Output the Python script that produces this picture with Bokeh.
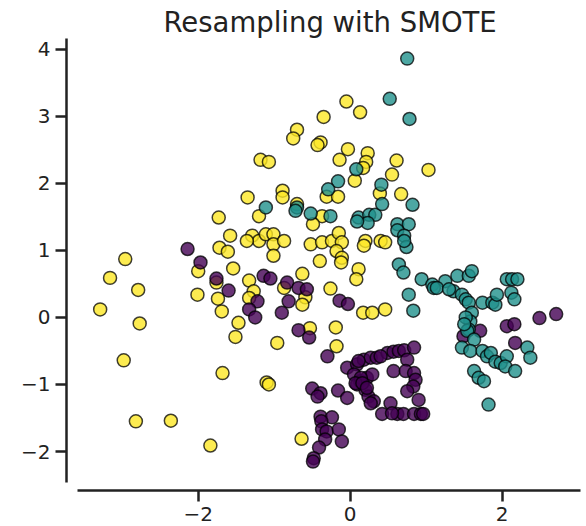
from bokeh.plotting import figure
from bokeh.models import FixedTicker, CustomJSTickFormatter, Range1d
from bokeh.embed import file_html
from bokeh.resources import INLINE

# ---- data ----
# class 0 (purple)
x_class0 = [-1.14, -1.05, -0.83, -0.68, -0.57, -0.81, -0.90, -0.14, -0.03, -0.68, -0.54, -0.30,
            -2.14, -1.97, -1.76, -1.60, -1.22, -1.33, -1.25,
            -0.50, -0.39, -0.43, -0.16, -0.04, -0.04, 0.09, 0.18, 0.27, 0.35, 0.05, 0.13, 0.22, 0.29,
            0.09, 0.20, 0.24, 0.31, 0.27, 0.42, 0.53, 0.62, 0.70, 0.84, 0.93, 0.96,
            0.49, 0.57, 0.64, 0.71, 0.84, 0.75, 0.57, 0.73, 0.84, 0.86, 0.83, 0.75, 0.90,
            -0.39, -0.24, -0.38, -0.37, -0.31, -0.15, -0.33, -0.11, -0.41, -0.48, -0.49,
            2.06, 2.16, 1.71, 1.49, 2.17, 2.49, 2.71,
            0.40, 0.14, 0.07, 0.16, 0.22, 0.55, 0.11]
y_class0 = [0.62, 0.58, 0.52, 0.44, 0.42, 0.24, 0.07, 0.25, 0.20, -0.19, -0.30, -0.58,
            1.02, 0.82, 0.58, 0.40, 0.24, 0.12, 0.00,
            -1.06, -1.13, -1.18, -1.09, -1.20, -0.75, -0.70, -0.63, -0.60, -0.60, -0.85, -0.95, -0.90, -0.85,
            -1.00, -1.08, -1.18, -1.25, -1.28, -1.44, -1.28, -1.44, -1.44, -1.44, -1.44, -1.44,
            -0.53, -0.51, -0.50, -0.49, -0.45, -0.63, -0.80, -0.80, -0.83, -0.93, -1.03, -1.10, -1.23,
            -1.48, -1.49, -1.55, -1.67, -1.70, -1.67, -1.82, -1.85, -1.94, -2.10, -2.15,
            -0.13, -0.10, -0.20, -0.28, -0.38, -0.01, 0.05,
            -0.58, -0.90, -0.98, -0.98, -1.05, -1.43, -0.65]

# class 1 (teal)
x_class1 = [0.75, 0.52, 0.78, 0.08, -0.16, -0.29, 0.41,
            -1.11, -0.70, -0.72, -0.52, -0.26, 0.11, 0.25, 0.33, 0.23, 0.09, 0.42, 0.82,
            0.62, 0.77, 0.62, 0.71, 0.74, 0.71, 0.64, 0.70, 0.77, 0.83,
            0.94, 1.08, 1.10, 1.25, 1.41, 1.56, 1.60, 1.36, 1.47, 1.52, 1.56, 1.74, 1.87, 1.91, 1.93,
            2.06, 2.13, 2.20, 2.12, 2.16, 1.60, 1.58, 1.56, 1.54, 1.63, 1.52, 1.50,
            1.47, 1.58, 1.74, 1.80, 1.85, 1.91, 1.98, 2.06, 2.04, 2.17, 2.33, 2.37,
            1.63, 1.69, 1.76, 1.82, 1.14, 1.30]
y_class1 = [3.86, 3.26, 2.96, 2.21, 2.03, 1.91, 1.98,
            1.64, 1.64, 1.59, 1.55, 1.51, 1.49, 1.53, 1.53, 1.41, 1.43, 1.69, 1.68,
            1.39, 1.39, 1.30, 1.22, 1.05, 1.14, 0.79, 0.67, 0.34, 0.10,
            0.57, 0.49, 0.44, 0.54, 0.62, 0.62, 0.69, 0.39, 0.34, 0.27, 0.22, 0.22, 0.22, 0.19, 0.34,
            0.57, 0.57, 0.57, 0.37, 0.27, 0.07, -0.06, -0.18, -0.20, -0.33, 0.00, -0.10,
            -0.45, -0.50, -0.50, -0.58, -0.53, -0.66, -0.68, -0.58, -0.73, -0.80, -0.45, -0.60,
            -0.80, -0.90, -0.95, -1.30, 0.44, 0.42]

# class 2 (yellow)
x_class2 = [-0.05, 0.13, -0.35, -0.70, -0.75, -0.39, -0.43, -0.03, 0.23, -0.14, 0.21, -1.18, -1.07,
            0.61, 0.17, 0.55, 1.03, 0.06, -0.31, -0.16, 0.39, 0.67, -0.89, -0.89, -1.35, -0.70,
            -1.20, -0.37, -0.49, 0.40, 0.46, 0.20, 0.18, -1.29, -1.20, -1.11, -1.01, -1.01, -0.87, -1.01,
            -0.52, -0.37, -0.24, -0.15, -0.11, -0.18, -0.11, -0.12, -0.40, 0.11, 0.08, -0.63, -0.87,
            -0.26, -0.59, -0.63, 0.17, 0.29, 0.46, -0.19, -0.53, -0.96, -0.18,
            -1.73, -1.58, -1.72, -1.61, -1.36, -2.00, -1.54, -1.76, -1.33, -1.27, -1.33, -2.01, -1.74,
            -1.69, -1.47, -1.51, -2.96, -3.16, -2.79, -3.29, -2.77, -2.98,
            -1.68, -2.82, -2.36, -1.84, -1.10, -1.07, -0.64]
y_class2 = [3.22, 3.06, 2.99, 2.80, 2.67, 2.61, 2.57, 2.51, 2.45, 2.35, 2.32, 2.35, 2.32,
            2.34, 2.23, 2.13, 2.20, 2.04, 1.80, 1.80, 1.85, 1.84, 1.89, 1.79, 1.79, 1.69,
            1.51, 1.51, 1.39, 1.14, 1.12, 1.14, 1.07, 1.22, 1.14, 1.24, 1.24, 1.09, 1.14, 0.92,
            1.09, 1.12, 1.14, 1.26, 1.12, 0.99, 0.89, 0.82, 0.84, 0.72, 0.57, 0.65, 0.44,
            0.43, 0.30, 0.19, 0.07, 0.07, 0.12, -0.15, -0.16, -0.38, -0.43,
            1.49, 1.22, 1.04, 0.98, 1.14, 0.69, 0.73, 0.52, 0.55, 0.39, 0.29, 0.34, 0.28,
            0.09, -0.08, -0.29, 0.87, 0.59, 0.41, 0.12, -0.09, -0.64,
            -0.83, -1.55, -1.54, -1.91, -0.97, -1.00, -1.81]

x_ticks = [-2, 0, 2]
y_ticks = [-2, -1, 0, 1, 2, 3, 4]
title_text = "Resampling with SMOTE"

colors = ["#440154", "#21918c", "#fde725"]

# ---- figure ----
p = figure(width=586, height=526, output_backend="svg", toolbar_location=None,
           x_range=Range1d(-3.733, 3.030), y_range=Range1d(-2.581, 4.160),
           min_border_left=66, min_border_right=6, min_border_top=38, min_border_bottom=36)

p.title.text = title_text
p.title.text_font = "DejaVu Sans"
p.title.text_font_size = "27.5px"
p.title.text_font_style = "normal"
p.title.text_color = "#222222"
p.title.align = "left"
p.title.offset = 97
p.title.standoff = 1

p.xgrid.visible = False
p.ygrid.visible = False
p.outline_line_color = None
p.background_fill_color = "white"
p.border_fill_color = "white"

fmt = CustomJSTickFormatter(code="return (tick < 0 ? '\\u2212' : '') + Math.abs(tick).toFixed(0);")
for ax in (p.xaxis[0], p.yaxis[0]):
    ax.formatter = fmt
    ax.axis_line_width = 2.5
    ax.axis_line_color = "#222222"
    ax.major_tick_line_width = 2.5
    ax.major_tick_line_color = "#222222"
    ax.major_tick_out = 11
    ax.major_tick_in = 0
    ax.minor_tick_line_color = None
    ax.major_label_text_font = "DejaVu Sans"
    ax.major_label_text_font_size = "20px"
    ax.major_label_text_color = "#222222"
    ax.major_label_text_line_height = 0.8

p.xaxis[0].major_label_standoff = 5
p.yaxis[0].major_label_standoff = 5

p.xaxis[0].ticker = FixedTicker(ticks=x_ticks)
p.yaxis[0].ticker = FixedTicker(ticks=y_ticks)
p.xaxis[0].bounds = (-3.592, 3.030)
p.yaxis[0].bounds = (-2.466, 4.160)

for xs, ys, c in ((x_class2, y_class2, colors[2]),
                  (x_class0, y_class0, colors[0]),
                  (x_class1, y_class1, colors[1])):
    p.scatter(xs, ys, size=13, fill_color=c, fill_alpha=0.8,
              line_color="black", line_alpha=0.75, line_width=1.5)

open("out.html", "w").write(file_html(p, INLINE))
